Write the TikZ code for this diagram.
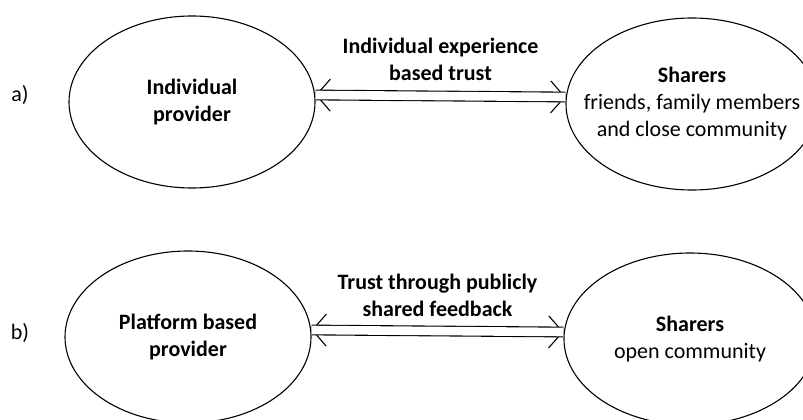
\documentclass[tikz,border=0pt]{standalone}
\usepackage{fontspec}
\setmainfont{Carlito}
\usetikzlibrary{shapes.geometric,arrows.meta}

\tikzset{
  party/.style={draw, ellipse, line width=1.1pt, minimum width=246pt, minimum height=172pt, inner sep=0pt},
  txt/.style={align=center, font=\fontsize{22}{27}\selectfont},
  txtb/.style={txt, font=\fontsize{22}{27}\selectfont\bfseries},
  tips/.style={line width=1.1pt, {Straight Barb[length=14pt,width=32pt]}-{Straight Barb[length=14pt,width=32pt]}},
  trust/.style={line width=1.1pt, double, double distance=8.6pt}
}

\begin{document}
\begin{tikzpicture}[x=1pt,y=-1pt]
\useasboundingbox (0,0) rectangle (803,420);

% a) direct sharing
\node[txt] (la) at (20,95) {a)};
\node[party, label={[txtb]center:{Individual\\provider}}] (ip) at (192,102) {};
\node[party, minimum width=252pt, label={[txt]center:{\textbf{Sharers}\\friends, family members\\and close community}}] (sa) at (692,104) {};

\draw[tips] ([yshift=7pt]ip.east) -- ([yshift=7pt]sa.west);
\draw[trust] ([yshift=7pt]ip.east) -- ([yshift=7pt]sa.west)
  node[txtb, midway, above=11pt] (ta) {Individual experience\\based trust};

% b) sharing through a platform
\node[txt] (lb) at (20,333) {b)};
\node[party, label={[txtb]center:{Platform based\\provider}}] (pp) at (188,337) {};
\node[party, minimum width=252pt, label={[txt]center:{\textbf{Sharers}\\open community}}] (sb) at (690,339) {};

\draw[tips] ([yshift=7pt]pp.east) -- ([yshift=7pt]sb.west);
\draw[trust] ([yshift=7pt]pp.east) -- ([yshift=7pt]sb.west)
  node[txtb, midway, above=10pt] (tb) {Trust through publicly\\shared feedback};
\end{tikzpicture}
\end{document}
